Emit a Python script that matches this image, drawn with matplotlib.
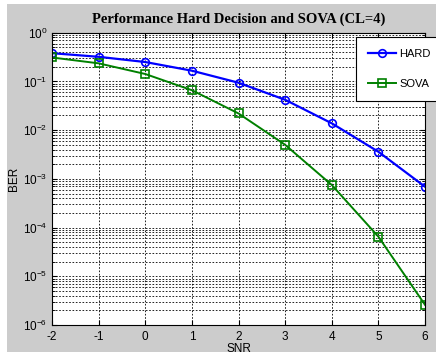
import matplotlib
matplotlib.use("Agg")
import matplotlib.pyplot as plt
from matplotlib.patches import Rectangle

snr = [-2, -1, 0, 1, 2, 3, 4, 5, 6]
ber_hard = [0.38, 0.32, 0.25, 0.166, 0.094, 0.042, 0.0138, 0.0036, 0.00069]
ber_sova = [0.31, 0.235, 0.142, 0.066, 0.022, 0.005, 0.00075, 6.5e-5, 2.6e-6]

plt.rcParams["font.family"] = ["Liberation Sans", "DejaVu Sans"]
plt.rcParams["axes.unicode_minus"] = False

W, H = 436, 354
fig = plt.figure(figsize=(W / 100, H / 100), dpi=100, facecolor="white")
fig.patches.append(Rectangle((7 / W, 2 / H), 1, 1 - 6 / H, transform=fig.transFigure,
                             facecolor="#cccccc", edgecolor="none", zorder=-10))

ax = fig.add_axes([52 / W, (H - 325) / H, (425 - 52) / W, (325 - 32.7) / H])
ax.set_facecolor("white")
ax.semilogy(snr, ber_hard, "-o", color="blue", lw=1.6, ms=5.5, mfc="none", mew=1.2, label="HARD")
ax.semilogy(snr, ber_sova, "-s", color="#008000", lw=1.4, ms=5.5, mfc="none", mew=1.2, label="SOVA")

ax.set_xlim(-2, 6)
ax.set_ylim(1e-6, 1)
ax.set_xticks(snr)
ax.set_yticks([1e-6, 1e-5, 1e-4, 1e-3, 1e-2, 1e-1, 1])
ax.grid(True, which="major", color="black", linestyle=(0, (2, 2)), lw=0.6)
ax.grid(True, which="minor", axis="y", color="black", linestyle=(0, (2, 2)), lw=0.6)
ax.tick_params(which="both", direction="in", labelsize=8.5, top=True, right=True)
ax.tick_params(axis="x", pad=4)
ax.tick_params(which="minor", length=2)
for s in ax.spines.values():
    s.set_linewidth(0.8)

ax.set_title("Performance Hard Decision and SOVA (CL=4)", family="Liberation Serif",
             fontweight="bold", fontsize=10.5, pad=7)
ax.set_xlabel("SNR", fontsize=8.5, labelpad=0)
ax.set_ylabel("BER", fontsize=8.5, labelpad=2)

leg = fig.legend(loc="upper left", bbox_to_anchor=(356 / W, 1 - 37 / H), fontsize=8,
                 fancybox=False, framealpha=1, edgecolor="black", borderpad=1.1,
                 borderaxespad=0, labelspacing=1.75, handlelength=2.5, handletextpad=0.3)
leg.get_frame().set_linewidth(0.8)

fig.savefig("out.png", dpi=100, facecolor=fig.get_facecolor())
